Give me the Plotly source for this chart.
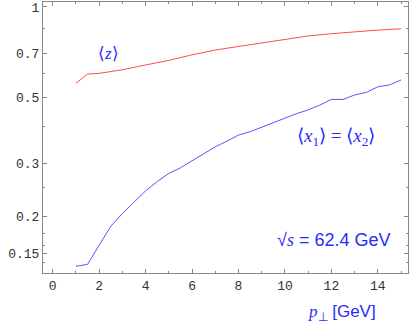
import math
import plotly.graph_objects as go

# <z> curve
pt_z = [1, 1.5, 2, 2.5, 3, 4, 5, 6, 7, 8, 9, 10, 11, 12, 13, 14, 15]
mean_z = [0.556, 0.597, 0.600, 0.607, 0.617, 0.640, 0.663, 0.692, 0.718, 0.738,
          0.759, 0.779, 0.800, 0.814, 0.827, 0.837, 0.845]

# <x1> = <x2> curve
pt_x = [1, 1.5, 2, 2.5, 3, 3.5, 4, 4.5, 5, 5.5, 6, 6.5, 7, 7.5, 8, 8.5, 9, 9.5,
        10, 10.5, 11, 11.5, 12, 12.5, 13, 13.5, 14, 14.5, 15]
mean_x = [0.136, 0.138, 0.160, 0.185, 0.204, 0.223, 0.243, 0.261, 0.278, 0.290,
          0.306, 0.322, 0.341, 0.356, 0.373, 0.383, 0.397, 0.411, 0.426, 0.440,
          0.453, 0.470, 0.491, 0.491, 0.508, 0.518, 0.541, 0.549, 0.570]

y_ticks = [0.15, 0.2, 0.3, 0.5, 0.7, 1]
y_ticktext = ["0.15", "0.2", "0.3", "0.5", "0.7", "1"]
y_minor = [0.14, 0.16, 0.175, 0.25, 0.4, 0.6, 0.85]
x_ticks = [0, 2, 4, 6, 8, 10, 12, 14]

BLUE_TXT = "#2a2aff"
serif = "Liberation Serif"
sans = "Liberation Sans"

fig = go.Figure()
fig.add_trace(go.Scatter(x=pt_z, y=mean_z, mode="lines",
                         line=dict(color="#ff4d4d", width=1)))
fig.add_trace(go.Scatter(x=pt_x, y=mean_x, mode="lines",
                         line=dict(color="#5555ff", width=1)))

# log axis: annotation y is given in log10 units
fig.add_annotation(x=2.4, y=math.log10(0.70), text="⟨<i>z</i>⟩", showarrow=False,
                   font=dict(family=serif, size=17, color=BLUE_TXT))
fig.add_annotation(x=12.2, y=math.log10(0.367),
                   text="⟨<i>x</i><sub>1</sub>⟩ = ⟨<i>x</i><sub>2</sub>⟩",
                   showarrow=False, font=dict(family=serif, size=19, color=BLUE_TXT))
fig.add_annotation(x=12.1, y=math.log10(0.166),
                   text="√<i style='font-family:Liberation Serif'>s</i> = 62.4 GeV",
                   showarrow=False, font=dict(family=sans, size=18, color=BLUE_TXT))
fig.add_annotation(xref="paper", yref="paper", x=0.82, y=-0.148,
                   xanchor="center", yanchor="middle",
                   text="<i style='font-family:Liberation Serif'>p</i><sub>⊥</sub> [GeV]",
                   showarrow=False, font=dict(family=sans, size=17, color=BLUE_TXT))

axis_font = dict(family="Liberation Mono", size=13, color="#333333")
fig.update_xaxes(range=[-0.42, 15.3], tickvals=x_ticks, ticks="inside", ticklen=4,
                 tickcolor="#888888", showline=True, linecolor="#888888", mirror="ticks",
                 showgrid=False, zeroline=False, tickfont=axis_font, automargin=False,
                 minor=dict(dtick=1, ticks="inside", ticklen=2, tickcolor="#888888"))
fig.update_yaxes(type="log", range=[-0.889, 0.0166], tickvals=y_ticks, ticktext=y_ticktext,
                 ticks="inside", ticklen=4, tickcolor="#888888", showline=True,
                 linecolor="#888888", mirror="ticks", showgrid=False, zeroline=False,
                 tickfont=axis_font, automargin=False,
                 minor=dict(tickvals=y_minor, ticks="inside", ticklen=2, tickcolor="#888888"))

fig.update_layout(width=409, height=327,
                  margin=dict(l=43, r=1, t=2, b=54, autoexpand=False),
                  showlegend=False, plot_bgcolor="white", paper_bgcolor="white")

# drop the browser's default 8px body margin so the figure sits at the page corner
fig.write_html("out.html", config={"displayModeBar": False},
               post_script="document.body.style.margin='0';")
